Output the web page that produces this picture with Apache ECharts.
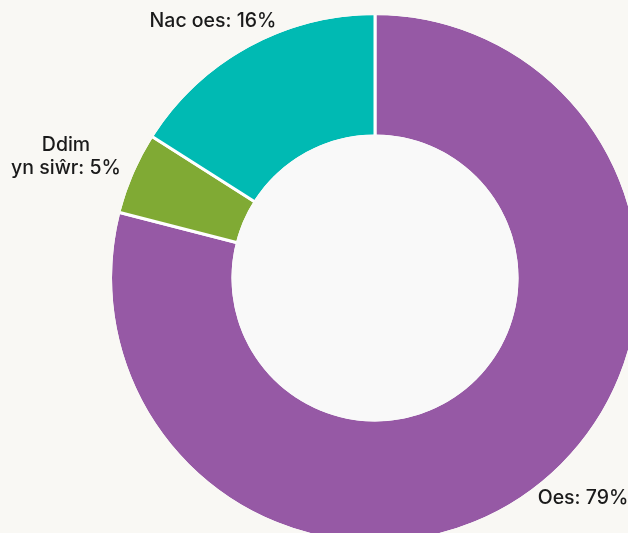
<!DOCTYPE html>
<html>
<head>
<meta charset="utf-8">
<script src="https://cdn.jsdelivr.net/npm/echarts@6/dist/echarts.min.js"></script>
<style>
html,body{margin:0;padding:0;background:#f9f8f4;}
#chart{width:628px;height:533px;}
</style>
</head>
<body>
<div id="chart"></div>
<script>
var categories = ['Oes', 'Ddim\nyn siŵr', 'Nac oes'];
var values = [79, 5, 16];
var colors = ['#9659a5', '#80aa34', '#00bab3'];

var labelSpots = [
  {x: 583, y: 498, align: 'center'},
  {x: 66, y: 157, align: 'center'},
  {x: 213, y: 21, align: 'center'}
];

var CENTER = [375, 278];
var BG = '#f9f8f4';
var HOLE = '#f9f9f9';

var chart = echarts.init(document.getElementById('chart'), null, {renderer: 'canvas'});
chart.setOption({
  backgroundColor: BG,
  animation: false,
  series: [{
    type: 'pie',
    center: CENTER,
    radius: [142, 264.5],
    startAngle: 90,
    clockwise: true,
    avoidLabelOverlap: false,
    silent: true,
    itemStyle: {borderColor: '#ffffff', borderWidth: 3},
    label: {
      show: true,
      position: 'outside',
      formatter: function (p) { return p.name + ': ' + p.value + '%'; },
      color: '#1a1a1a',
      fontFamily: 'Inter',
      fontWeight: 500,
      fontSize: 19.5,
      lineHeight: 23,
      align: 'center'
    },
    labelLine: {show: false},
    labelLayout: function (p) {
      var s = labelSpots[p.dataIndex];
      return {x: s.x, y: s.y, align: s.align, verticalAlign: 'middle'};
    },
    data: categories.map(function (c, i) {
      return {name: c, value: values[i], itemStyle: {color: colors[i]}};
    })
  }, {
    type: 'pie',
    center: CENTER,
    radius: [0, 143.5],
    silent: true,
    label: {show: false},
    labelLine: {show: false},
    itemStyle: {color: HOLE, borderWidth: 0},
    emphasis: {disabled: true},
    data: [1]
  }, {
    type: 'pie',
    center: CENTER,
    radius: [263, 268],
    silent: true,
    label: {show: false},
    labelLine: {show: false},
    itemStyle: {color: BG, borderWidth: 0},
    emphasis: {disabled: true},
    data: [1]
  }]
});
</script>
</body>
</html>
